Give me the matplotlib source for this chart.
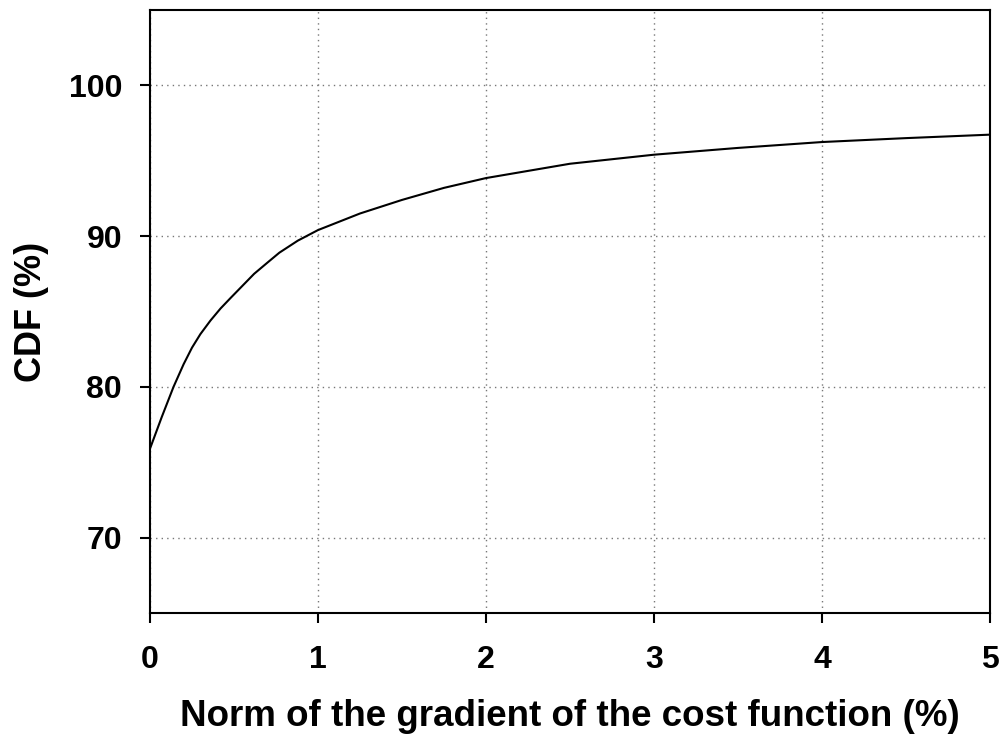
import matplotlib
matplotlib.use("Agg")
import matplotlib.pyplot as plt

# gradient norm (%) vs cumulative share of samples (%)
grad_norm = [0.0, 0.07, 0.14, 0.2, 0.25, 0.3, 0.36, 0.42, 0.48, 0.55, 0.62,
             0.7, 0.77, 0.88, 1.0, 1.25, 1.5, 1.75, 2.0, 2.5, 3.0, 3.5, 4.0,
             4.5, 5.0]
cdf = [75.9, 78.0, 80.0, 81.5, 82.6, 83.5, 84.4, 85.2, 85.9, 86.7, 87.5,
       88.25, 88.9, 89.7, 90.4, 91.5, 92.4, 93.2, 93.85, 94.8, 95.4, 95.85,
       96.24, 96.5, 96.73]

x_ticks = [0, 1, 2, 3, 4, 5]
y_ticks = [70, 80, 90, 100]

plt.rcParams['font.family'] = ['Liberation Sans', 'DejaVu Sans']
plt.rcParams['font.weight'] = 'bold'

fig = plt.figure(figsize=(10.04, 7.45), dpi=100)
ax = fig.add_axes([0.1494, 0.1772, 0.8366, 0.8094])

ax.plot(grad_norm, cdf, color='black', linewidth=1.5)

ax.set_xlim(0, 5)
ax.set_ylim(65, 105)
ax.set_xticks(x_ticks)
ax.set_yticks(y_ticks)
ax.grid(True, linestyle=(0, (1, 3)), color='#777777', linewidth=1)

for s in ax.spines.values():
    s.set_linewidth(1.5)
ax.tick_params(direction='out', length=7, width=1.5, labelsize=23)
ax.tick_params(axis='x', pad=16)
ax.tick_params(axis='y', pad=13)

ax.set_xlabel('Norm of the gradient of the cost function (%)', fontsize=26.5,
              fontweight='bold', labelpad=17)
ax.set_ylabel('CDF (%)', fontsize=26, fontweight='bold', labelpad=14)

fig.savefig('out.png', dpi=100)
